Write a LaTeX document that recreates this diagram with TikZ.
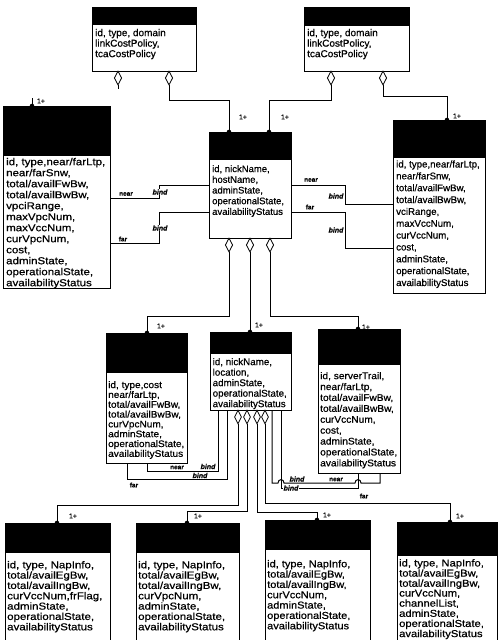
\documentclass[tikz,border=0pt]{standalone}
\usepackage{fontspec}
\setmainfont{Liberation Sans}[FakeBold=0.6]
\usepackage{graphicx}
\usetikzlibrary{shapes.geometric}
\tikzset{
 boxst/.style={draw, line width=1.1pt, anchor=north west, inner sep=0pt, fill=white},
 dia/.style={diamond, draw, fill=white, line width=0.8pt, inner sep=0pt, minimum width=7.5pt, minimum height=14pt},
 conn/.style={line width=1pt},
 lbl/.style={font=\fontsize{6.5}{7}\selectfont\bfseries, inner sep=0.5pt},
 bindl/.style={font=\fontsize{7}{8}\selectfont\bfseries\itshape, inner sep=0.5pt},
 mult/.style={font=\fontsize{7}{8}\selectfont, inner sep=0pt},
 txt/.style={anchor=north west, inner sep=0pt},
}
\newcommand\umlbox[6]{%
 \node[boxst, minimum width=#4pt, minimum height=#5pt] (#1) at (#2,#3) {};
 \fill (#2,#3) rectangle ++(#4,#6);
}
\begin{document}
\begin{tikzpicture}[x=1pt,y=-1pt]
\useasboundingbox (0,0) rectangle (498,640);
% boxes
\umlbox{A}{92}{7}{104}{64}{18}
\umlbox{B}{304}{7}{105}{64}{19}
\umlbox{D}{3}{106}{107}{182}{50}
\umlbox{E}{209}{132}{82}{106}{28}
\umlbox{C}{393}{120}{92}{173}{38}
\umlbox{F}{106}{333}{81}{130}{40}
\umlbox{G}{210}{332}{81}{78}{22}
\umlbox{H}{318}{329}{82}{144}{36}
\umlbox{I}{5}{523}{105}{125}{30}
\umlbox{J}{136}{523}{103}{125}{30}
\umlbox{K}{265}{520}{105}{128}{30}
\umlbox{L}{397}{522}{100}{126}{34}
% texts
\node[txt] (At) at (95,28.6) {\fontsize{10}{10.5}\selectfont\begin{tabular}{@{}l@{}}id, type, domain\\linkCostPolicy,\\tcaCostPolicy\end{tabular}};
\node[txt] (Bt) at (307,28.6) {\fontsize{10}{10.5}\selectfont\begin{tabular}{@{}l@{}}id, type, domain\\linkCostPolicy,\\tcaCostPolicy\end{tabular}};
\node[txt] (Dt) at (6,157.3) {\fontsize{10}{11}\selectfont\scalebox{1.15}[1]{\begin{tabular}{@{}l@{}}id, type,near/farLtp,\\near/farSnw,\\total/availFwBw,\\total/availBwBw,\\vpciRange,\\maxVpcNum,\\maxVccNum,\\curVpcNum,\\cost,\\adminState,\\operationalState,\\availabilityStatus\end{tabular}}};
\node[txt] (Et) at (212,164.4) {\fontsize{9.5}{10.7}\selectfont\begin{tabular}{@{}l@{}}id, nickName,\\hostName,\\adminState,\\operationalState,\\availabilityStatus\end{tabular}};
\node[txt] (Ct) at (396,159) {\fontsize{9.7}{11.85}\selectfont\begin{tabular}{@{}l@{}}id, type,near/farLtp,\\near/farSnw,\\total/availFwBw,\\total/availBwBw,\\vciRange,\\maxVccNum,\\curVccNum,\\cost,\\adminState,\\operationalState,\\availabilityStatus\end{tabular}};
\node[txt] (Ft) at (108,381) {\fontsize{9.5}{9.8}\selectfont\scalebox{1.06}[1]{\begin{tabular}{@{}l@{}}id, type,cost\\near/farLtp,\\total/availFwBw,\\total/availBwBw,\\curVpcNum,\\adminState,\\operationalState,\\availabilityStatus\end{tabular}}};
\node[txt] (Gt) at (212.5,357.6) {\fontsize{9.8}{10.5}\selectfont\begin{tabular}{@{}l@{}}id, nickName,\\location,\\adminState,\\operationalState,\\availabilityStatus\end{tabular}};
\node[txt] (Ht) at (320,371.3) {\fontsize{9.7}{10.9}\selectfont\scalebox{1.05}[1]{\begin{tabular}{@{}l@{}}id, serverTrail,\\near/farLtp,\\total/availFwBw,\\total/availBwBw,\\curVccNum,\\cost,\\adminState,\\operationalState,\\availabilityStatus\end{tabular}}};
\node[txt] (It) at (7,560.8) {\fontsize{10}{10.3}\selectfont\scalebox{1.15}[1]{\begin{tabular}{@{}l@{}}id, type, NapInfo,\\total/availEgBw,\\total/availIngBw,\\curVccNum,frFlag,\\adminState,\\operationalState,\\availabilityStatus\end{tabular}}};
\node[txt] (Jt) at (138,560.8) {\fontsize{10}{10.3}\selectfont\scalebox{1.15}[1]{\begin{tabular}{@{}l@{}}id, type, NapInfo,\\total/availEgBw,\\total/availIngBw,\\curVpcNum,\\adminState,\\operationalState,\\availabilityStatus\end{tabular}}};
\node[txt] (Kt) at (267,559.8) {\fontsize{10}{10.3}\selectfont\scalebox{1.1}[1]{\begin{tabular}{@{}l@{}}id, type, NapInfo,\\total/availEgBw,\\total/availIngBw,\\curVccNum,\\adminState,\\operationalState,\\availabilityStatus\end{tabular}}};
\node[txt] (Lt) at (399,559) {\fontsize{10}{9.65}\selectfont\scalebox{1.12}[1]{\begin{tabular}{@{}l@{}}id, type, NapInfo,\\total/availEgBw,\\total/availIngBw,\\curVccNum,\\channelList,\\adminState,\\operationalState,\\availabilityStatus\end{tabular}}};
% attach points
\coordinate (Ein1) at (229,132);
\coordinate (Ein2) at (269,132);
\coordinate (Cin) at (447,120);
\coordinate (Din) at (32,106);
\coordinate (Fin) at (147,333);
\coordinate (Gin) at (250,332);
\coordinate (Hin) at (358,329);
\coordinate (Iin) at (57,523);
\coordinate (Jin) at (187,523);
\coordinate (Kin) at (317,520);
\coordinate (Lin) at (450,522);
% aggregation connectors
\draw[conn] (118,85) -- (118,89);
\draw[conn] (169,85) -- ++(0,15) -| (Ein1);
\draw[conn] (331,85) -- ++(0,15) -| (Ein2);
\draw[conn] (383,85) -- ++(0,11) -| (Cin);
\draw[conn] (Din) -- ++(0,-8);
\draw[conn] (229,252) -- ++(0,64) -| (Fin);
\draw[conn] (250,252) -- (Gin);
\draw[conn] (270,252) -- ++(0,64) -| (Hin);
\draw[conn] (238,424) -- ++(0,81) -| (Iin);
\draw[conn] (247,424) -- ++(0,87) -| (Jin);
\draw[conn] (257,424) -- ++(0,88) -| (Kin);
\draw[conn] (265,424) -- ++(0,79) -| (Lin);
% diamonds
\node[dia] (Ad1) at (118,78) {};
\node[dia] (Ad2) at (169,78) {};
\node[dia] (Bd1) at (331,78) {};
\node[dia] (Bd2) at (383,78) {};
\node[dia] (Ed1) at (229,245) {};
\node[dia] (Ed2) at (250,245) {};
\node[dia] (Ed3) at (270,245) {};
\node[dia, minimum width=7pt] (Gd1) at (238,417) {};
\node[dia, minimum width=7pt] (Gd2) at (247,417) {};
\node[dia, minimum width=7pt] (Gd3) at (257,417) {};
\node[dia, minimum width=7pt] (Gd4) at (265,417) {};
% dots
\foreach \p in {Ein1,Ein2,Cin,Din,Fin,Gin,Hin,Iin,Jin,Kin,Lin} \fill (\p) circle (2.3pt);
% multiplicities
\node[mult] (m1) at (243,117) {1+};
\node[mult] (m2) at (285,117) {1+};
\node[mult] (m3) at (457,116) {1+};
\node[mult] (m4) at (41,101) {1+};
\node[mult] (m5) at (161,326) {1+};
\node[mult] (m6) at (259,325) {1+};
\node[mult] (m7) at (366,327) {1+};
\node[mult] (m8) at (73,516) {1+};
\node[mult] (m9) at (198,516) {1+};
\node[mult] (m10) at (327,515) {1+};
\node[mult] (m11) at (460,516) {1+};
% bind connectors D-E
\coordinate (Dn) at (110,198); \coordinate (En) at (209,185);
\coordinate (Df) at (110,243); \coordinate (Ef) at (209,212);
\draw[conn] (Dn) -| (159,185) -- (En);
\draw[conn] (Df) -| (159,212) -- (Ef);
\node[lbl] (l1) at (126,194) {near};
\node[bindl, fill=white] (b1) at (160,192) {bind};
\node[lbl] (l2) at (123,239) {far};
\node[bindl, fill=white] (b2) at (160,228) {bind};
% bind connectors E-C
\coordinate (En2) at (291,185); \coordinate (Cn) at (393,204);
\coordinate (Ef2) at (291,212); \coordinate (Cf) at (393,248);
\draw[conn] (En2) -| (345,204) -- (Cn);
\draw[conn] (Ef2) -| (345,248) -- (Cf);
\node[lbl] (l3) at (311,180) {near};
\node[bindl] (b3) at (336,196) {bind};
\node[lbl] (l4) at (310,207) {far};
\node[bindl] (b4) at (336,230) {bind};
% bind connectors F-G
\coordinate (Fn) at (147,463); \coordinate (Gn) at (218,410);
\coordinate (Ff) at (127,463); \coordinate (Gf) at (227,410);
\draw[conn] (Fn) -- ++(0,8) -| (Gn);
\draw[conn] (Ff) -- ++(0,16) -| (Gf);
\node[lbl] (l5) at (177,467.5) {near};
\node[bindl] (b5) at (208,466.5) {bind};
\node[bindl] (b6) at (200,475.5) {bind};
\node[lbl] (l6) at (134,485) {far};
% bind connectors G-H
\coordinate (Gn2) at (272,410); \coordinate (Hn) at (380,473);
\coordinate (Gf2) at (281,410); \coordinate (Hf) at (358,473);
\draw[conn] (Gf2) -- (281,488) -| (Hf);
\draw[conn] (Gn2) -- (272,483) -- (278,483) .. controls (278,478.5) and (284,478.5) .. (284,483)
  -- (355,483) .. controls (355,478.5) and (361,478.5) .. (361,483) -- (380,483) -- (Hn);
\node[bindl] (b7) at (297,479) {bind};
\node[lbl] (l7) at (336,479.5) {near};
\node[bindl, fill=white] (b8) at (291,488) {bind};
\node[lbl] (l8) at (364,496) {far};
\end{tikzpicture}
\end{document}
